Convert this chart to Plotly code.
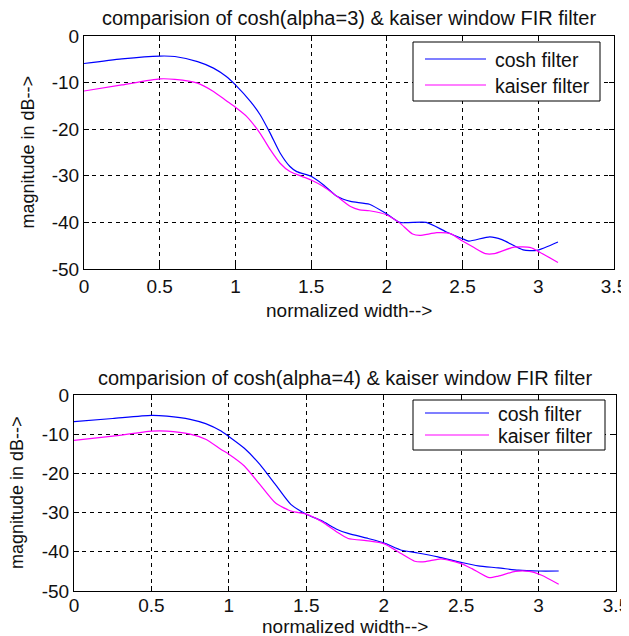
import plotly.graph_objects as go

# ---------------- data ----------------
titles = ["comparision of cosh(alpha=3) & kaiser window FIR filter",
          "comparision of cosh(alpha=4) & kaiser window FIR filter"]
x_label = "normalized width-->"
y_label = "magnitude in dB-->"
series_names = ["cosh filter", "kaiser filter"]
x_ticks = [0, 0.5, 1, 1.5, 2, 2.5, 3, 3.5]
y_ticks = [0, -10, -20, -30, -40, -50]

cosh3_x = [0, 0.25, 0.5, 0.6, 0.75, 0.855, 0.94, 1.0, 1.1, 1.163, 1.23, 1.295, 1.36, 1.405,
           1.5, 1.58, 1.67, 1.76, 1.885, 2.0, 2.084, 2.26, 2.39, 2.5, 2.54, 2.68, 2.76, 2.9, 2.99, 3.13]
cosh3_y = [-5.9, -4.9, -4.3, -4.4, -5.5, -6.9, -8.7, -10.5, -14.1, -16.9, -20.9, -25.1, -28, -29.1,
           -30.1, -31.9, -34.4, -35.5, -36.1, -38.2, -40, -40, -42, -43.5, -44, -43.1, -43.7, -45.9, -46, -44.2]

kaiser3_x = [0, 0.25, 0.5, 0.6, 0.75, 0.855, 0.94, 1.0, 1.075, 1.163, 1.23, 1.295, 1.36, 1.5, 1.58,
             1.67, 1.76, 1.82, 1.885, 2.0, 2.084, 2.17, 2.217, 2.33, 2.42, 2.5, 2.57, 2.65, 2.71,
             2.84, 2.95, 3.01, 3.13]
kaiser3_y = [-11.8, -10.5, -9.2, -9.3, -10.1, -11.9, -13.9, -15.3, -17.3, -20.9, -24.4, -27.3, -29.1,
             -30.9, -32.3, -34.4, -36.6, -37.3, -37.5, -38.4, -40.1, -42.5, -42.8, -42.2, -42.4, -44,
             -45.3, -46.7, -46.7, -45.3, -45.4, -46.4, -48.6]

cosh4_x = [0, 0.25, 0.5, 0.6, 0.75, 0.85, 0.95, 1.0, 1.1, 1.2, 1.3, 1.4, 1.5, 1.6, 1.7, 1.77, 1.9,
           2.0, 2.115, 2.22, 2.35, 2.5, 2.61, 2.74, 2.87, 3.0, 3.13]
cosh4_y = [-6.8, -6.0, -5.2, -5.4, -6.2, -7.3, -9.2, -10.6, -13.6, -17.7, -22.8, -27.9, -30.4, -32.1,
           -34.3, -35.3, -36.6, -37.7, -39.6, -40.3, -41.3, -42.7, -43.6, -44.1, -44.7, -44.9, -44.9]

kaiser4_x = [0, 0.25, 0.5, 0.6, 0.75, 0.85, 0.95, 1.0, 1.1, 1.2, 1.3, 1.4, 1.5, 1.6, 1.7, 1.77, 1.9,
             2.0, 2.115, 2.2, 2.27, 2.37, 2.5, 2.57, 2.68, 2.74, 2.85, 2.94, 3.02, 3.13]
kaiser4_y = [-11.6, -10.5, -9.2, -9.2, -10.0, -11.3, -13.9, -15.1, -18.1, -22.8, -27.5, -29.6, -30.4,
             -32.3, -35.0, -36.6, -37.2, -37.9, -40.5, -42.4, -42.5, -41.8, -43, -44.3, -46.6, -46.2,
             -45, -45, -46, -48.3]

colors = ["#0000FF", "#FF00FF"]

# ---------------- figure ----------------
OFF = 8                      # default page body margin
W, H = 629, 636              # figure size (page offset compensated in px/py)
FONT = "Liberation Sans, Arial, sans-serif"
TXT = "#111111"

def px(x):
    return (x - OFF) / W

def py(y):
    return 1 - (y - OFF) / H

fig = go.Figure()

panels = [
    dict(xs=[cosh3_x, kaiser3_x], ys=[cosh3_y, kaiser3_y], xa="x", ya="y",
         box=(84, 614, 36, 269), standoff=0),
    dict(xs=[cosh4_x, kaiser4_x], ys=[cosh4_y, kaiser4_y], xa="x2", ya="y2",
         box=(74, 616, 395, 591), standoff=-3),
]

for p in panels:
    for i in range(2):
        fig.add_trace(go.Scatter(
            x=p["xs"][i], y=p["ys"][i], mode="lines", name=series_names[i],
            line=dict(color=colors[i], width=1.2, shape="spline", smoothing=0.6),
            xaxis=p["xa"], yaxis=p["ya"], showlegend=False))

axis_common = dict(showline=True, linecolor="black", linewidth=1, mirror="ticks",
                   ticks="inside", ticklen=5, tickcolor="black", automargin=False,
                   ticklabeloverflow="allow",
                   showgrid=True, gridcolor="black", gridwidth=1, griddash="4px,4px",
                   zeroline=False, tickfont=dict(family=FONT, size=19, color=TXT))

layout = dict(width=W, height=H, autosize=False, margin=dict(l=0, r=0, t=0, b=0, pad=0),
              paper_bgcolor="white", plot_bgcolor="white", showlegend=False)

for k, p in enumerate(panels):
    l, r, t, b = p["box"]
    sx = "" if k == 0 else str(k + 1)
    layout["xaxis" + sx] = dict(axis_common, domain=[px(l), px(r)], range=[0, 3.5],
                                tickvals=x_ticks, ticktext=[f"{v:g}" for v in x_ticks],
                                ticklabelstandoff=p["standoff"], anchor="y" + sx)
    layout["yaxis" + sx] = dict(axis_common, domain=[py(b), py(t)], range=[-50, 0],
                                tickvals=y_ticks, ticktext=[f"{v:g}" for v in y_ticks],
                                anchor="x" + sx)

fig.update_layout(**layout)

annotations = []
shapes = []
title_y = [18, 378]
xlab_y = [310, 626]
ylab_x = [27, 17]
legend_boxes = [(413, 600, 42, 101, 59, 85, 425, 486, 493),
                (413, 605, 400, 450, 413, 435, 425, 489, 496)]

for k, p in enumerate(panels):
    l, r, t, b = p["box"]
    cx = (l + r) / 2
    annotations.append(dict(text=titles[k], x=px(cx), y=py(title_y[k]), xref="paper", yref="paper",
                            showarrow=False, xanchor="center", yanchor="middle",
                            font=dict(family=FONT, size=20, color=TXT)))
    annotations.append(dict(text=x_label, x=px(cx), y=py(xlab_y[k]), xref="paper", yref="paper",
                            showarrow=False, xanchor="center", yanchor="middle",
                            font=dict(family=FONT, size=19, color=TXT)))
    annotations.append(dict(text=y_label, x=px(ylab_x[k]), y=py((t + b) / 2), xref="paper",
                            yref="paper", showarrow=False, xanchor="center", yanchor="middle",
                            textangle=-90, font=dict(family=FONT, size=18, color=TXT)))
    bl, br, bt, bb, ly1, ly2, lx1, lx2, tx = legend_boxes[k]
    shapes.append(dict(type="rect", xref="paper", yref="paper", x0=px(bl), x1=px(br),
                       y0=py(bb), y1=py(bt), line=dict(color="black", width=1),
                       fillcolor="white", layer="above"))
    for i, ly in enumerate([ly1, ly2]):
        shapes.append(dict(type="line", xref="paper", yref="paper", x0=px(lx1), x1=px(lx2),
                           y0=py(ly), y1=py(ly), line=dict(color=colors[i], width=1.2),
                           layer="above"))
        annotations.append(dict(text=series_names[i], x=px(tx), y=py(ly + 1), xref="paper",
                                yref="paper", showarrow=False, xanchor="left", yanchor="middle",
                                font=dict(family=FONT, size=19.5, color=TXT)))

fig.update_layout(annotations=annotations, shapes=shapes)

fig.write_html("out.html")
